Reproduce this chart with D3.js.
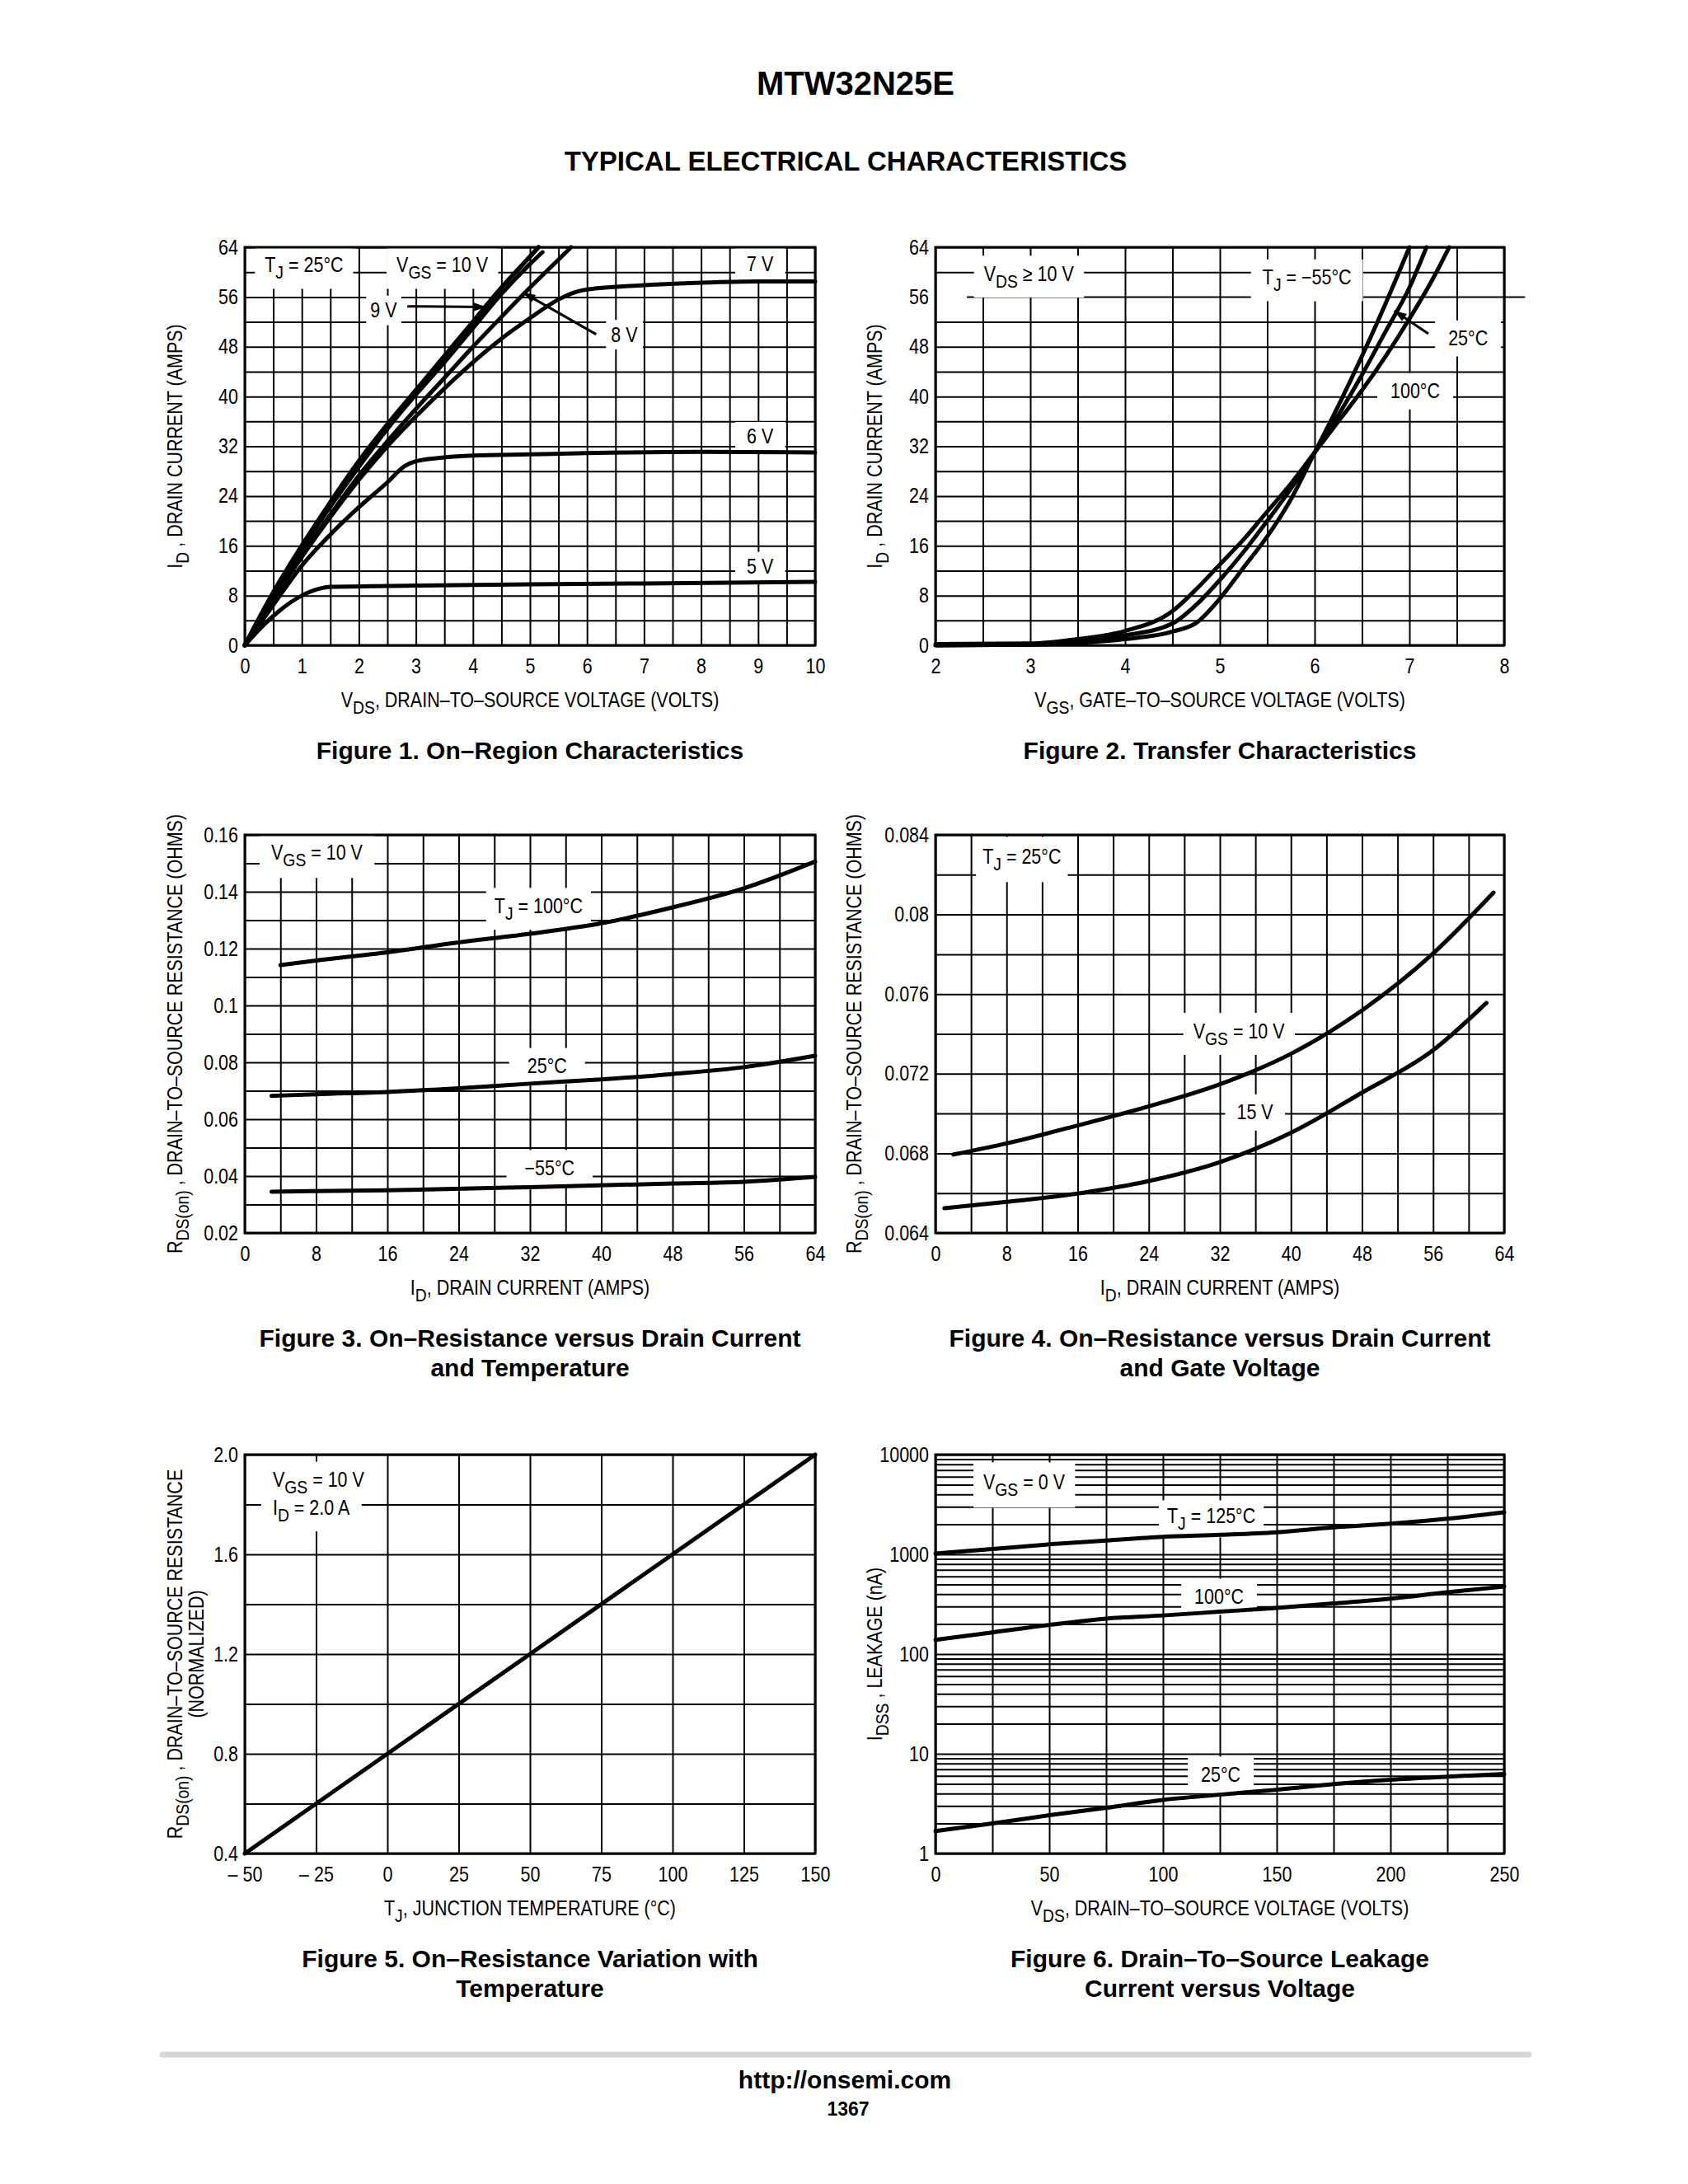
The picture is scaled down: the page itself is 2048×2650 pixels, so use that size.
<!DOCTYPE html>
<html><head><meta charset="utf-8">
<script src="https://cdn.jsdelivr.net/npm/d3@7"></script>
<style>body{margin:0;background:#fff}svg{display:block}</style>
</head><body>
<script>
// ================= DATA =================
// Figure 1 – On-region characteristics (VDS volts, ID amps)
const f1XTicks=[0,1,2,3,4,5,6,7,8,9,10];
const f1YTicks=[0,8,16,24,32,40,48,56,64];
const f1_10V=[[0,0],[0.5,8.5],[1,16],[1.5,23],[2,29.6],[2.5,35.5],[3,41],[3.5,46.5],[4,52],[4.5,57.5],[5,62.5],[5.15,64]];
const f1_9V=[[0,0],[0.5,8],[1,15.5],[1.5,22.3],[2,28.7],[2.5,34.8],[3,40.3],[3.5,45.5],[4,51],[4.5,56.5],[5,61.3],[5.22,63.2]];
const f1_8V=[[0,0],[0.5,7.6],[1,14.6],[1.5,21],[2,27.3],[2.5,32.8],[3,38],[3.5,43],[4,48],[4.5,52.8],[5,57.5],[5.5,62],[5.72,64]];
const f1_7V=[[0,0],[0.5,7.3],[1,14.2],[1.5,20.6],[2,26.6],[2.5,32],[3,36.8],[3.5,41.3],[4,45.5],[4.5,49.3],[5,52.6],[5.5,55.6],[5.8,56.8],[6,57.2],[7,57.9],[8,58.3],[9,58.5],[10,58.5]];
const f1_6V=[[0,0],[0.5,6.5],[1,12.8],[1.5,17.8],[2,22.2],[2.5,26.2],[2.8,28.8],[3,29.6],[3.5,30.2],[4,30.5],[5,30.7],[6,30.9],[8,31.1],[10,31]];
const f1_5V=[[0,0],[0.3,3],[0.6,5.5],[1,8],[1.3,9.1],[1.5,9.4],[3,9.6],[5,9.8],[7,9.95],[10,10.2]];
// Figure 2 – Transfer characteristics (VGS volts, ID amps)
const f2XTicks=[2,3,4,5,6,7,8];
const f2YTicks=[0,8,16,24,32,40,48,56,64];
const f2_m55=[[2,0],[3,0.1],[3.5,0.4],[4,1.0],[4.5,2.2],[4.75,3.6],[5,7.5],[5.25,12.5],[5.5,17.5],[5.75,23.5],[6,31],[6.25,38.5],[6.5,46.5],[6.75,55],[7,64]];
const f2_25=[[2,0],[3,0.15],[3.5,0.6],[4,1.6],[4.5,3.5],[4.75,6.5],[5,10.5],[5.25,15],[5.5,20],[5.75,25.2],[6,31],[6.25,37],[6.5,43.5],[6.75,50.5],[7,57.5],[7.18,64]];
const f2_100=[[2,0.2],[3,0.3],[3.5,1],[4,2.3],[4.5,5.5],[4.75,9],[5,13],[5.25,17],[5.5,21.5],[5.75,26],[6,31],[6.25,36],[6.5,41],[6.75,46.5],[7,52.5],[7.25,59],[7.42,64]];
// Figure 3 – RDS(on) vs ID and temperature
const f3XTicks=[0,8,16,24,32,40,48,56,64];
const f3YTicks=[0.02,0.04,0.06,0.08,0.1,0.12,0.14,0.16];
const f3YLabels=["0.02","0.04","0.06","0.08","0.1","0.12","0.14","0.16"];
const f3_100=[[4,0.1142],[8,0.1158],[16,0.1187],[24,0.1222],[32,0.1252],[40,0.1289],[48,0.1345],[56,0.1412],[64,0.1506]];
const f3_25=[[3,0.0682],[8,0.0688],[16,0.0696],[24,0.0709],[32,0.0725],[40,0.074],[48,0.0759],[56,0.0783],[64,0.0823]];
const f3_m55=[[3,0.0345],[8,0.0347],[16,0.035],[32,0.0361],[48,0.0374],[56,0.038],[64,0.0397]];
// Figure 4 – RDS(on) vs ID and gate voltage
const f4XTicks=[0,8,16,24,32,40,48,56,64];
const f4YTicks=[0.064,0.068,0.072,0.076,0.08,0.084];
const f4YLabels=["0.064","0.068","0.072","0.076","0.08","0.084"];
const f4_10V=[[2,0.06794],[8,0.0685],[16,0.0694],[24,0.07036],[32,0.07147],[40,0.073],[48,0.07518],[56,0.07804],[62.8,0.0811]];
const f4_15V=[[1,0.06524],[8,0.06556],[16,0.06598],[24,0.06661],[32,0.06756],[40,0.06903],[48,0.07105],[56,0.07318],[62,0.07556]];
// Figure 5 – normalized RDS(on) vs TJ
const f5XTicks=[-50,-25,0,25,50,75,100,125,150];
const f5XLabels=["\u2013 50","\u2013 25","0","25","50","75","100","125","150"];
const f5YTicks=[0.4,0.8,1.2,1.6,2.0];
const f5YLabels=["0.4","0.8","1.2","1.6","2.0"];
const f5_line=[[-50,0.4],[0,0.8],[50,1.2],[100,1.6],[150,2.0]];
// Figure 6 – IDSS leakage (nA) vs VDS
const f6XTicks=[0,50,100,150,200,250];
const f6YTicks=[1,10,100,1000,10000];
const f6_125=[[0,1020],[25,1130],[50,1260],[75,1377],[100,1500],[125,1570],[150,1667],[175,1865],[200,2033],[225,2275],[250,2637]];
const f6_100=[[0,139],[25,165],[50,196],[75,227],[100,244],[125,266],[150,290],[175,322],[200,360],[225,417],[250,475]];
const f6_25=[[0,1.68],[25,2.0],[50,2.42],[75,2.87],[100,3.45],[125,3.89],[150,4.36],[175,4.96],[200,5.5],[225,5.9],[250,6.27]];

// ================= DRAWING =================
const SANS="'Liberation Sans',Arial,Helvetica,sans-serif";
const FS=25, K=0.86;   // condensed look: Liberation Sans squeezed horizontally
const svg=d3.select('body').append('svg').attr('width',2048).attr('height',2650);
svg.append('defs').append('marker').attr('id','arr').attr('viewBox','0 0 10 10')
  .attr('refX',10).attr('refY',5).attr('markerWidth',5).attr('markerHeight',5)
  .attr('markerUnits','strokeWidth').attr('orient','auto')
  .append('path').attr('d','M0,1.5 L10,5 L0,8.5 Z').attr('fill','#000');

function rich(t,str,fs){
  const parts=str.split(/(_\{[^}]*\})/).filter(s=>s.length);
  let down=false;
  parts.forEach(p=>{
    if(p.startsWith('_{')){
      t.append('tspan').attr('dy',fs*0.32).attr('font-size',fs*0.9).text(p.slice(2,-1));
      down=true;
    } else {
      const ts=t.append('tspan').text(p);
      if(down){ts.attr('dy',-fs*0.32);down=false;}
    }
  });
  return t;
}
// condensed text at (X,Y), optional rotation
function ctext(parent,X,Y,str,anchor,rot){
  const t=parent.append('text').attr('x',0).attr('y',0)
    .attr('transform',`translate(${X},${Y})${rot?` rotate(${rot})`:''} scale(${K},1)`)
    .attr('text-anchor',anchor||'start').attr('font-family',SANS).attr('font-size',FS).attr('fill','#000');
  return rich(t,str,FS);
}
function range(a,b,s){const r=[];for(let v=a;v<=b+1e-9;v+=s)r.push(+v.toFixed(6));return r;}

function panel(o){
  const g=svg.append('g');
  const x=d3.scaleLinear().domain(o.xDomain).range([o.left,o.right]);
  const y=(o.yLog?d3.scaleLog():d3.scaleLinear()).domain(o.yDomain).range([o.bottom,o.top]);
  const H=o.bottom-o.top, W=o.right-o.left;
  const gGrid=g.append('g'), gBox=g.append('g'), gFrame=g.append('g'),
        gCurve=g.append('g'), gText=g.append('g');
  // grid
  gGrid.append('g').attr('transform',`translate(0,${o.bottom})`)
    .call(d3.axisBottom(x).tickValues(o.xGrid).tickSize(-H).tickFormat(''))
    .call(s=>{s.select('.domain').remove();s.selectAll('line').attr('stroke','#000').attr('stroke-width',2);});
  gGrid.append('g').attr('transform',`translate(${o.left},0)`)
    .call(d3.axisLeft(y).tickValues(o.yGrid).tickSize(-W).tickFormat(''))
    .call(s=>{s.select('.domain').remove();s.selectAll('line').attr('stroke','#000').attr('stroke-width',2);});
  if(o.extraGrid) o.extraGrid.forEach(e=>{
    gGrid.append('line').attr('x1',x(e.x0)).attr('x2',x(e.x1)).attr('y1',y(e.y)).attr('y2',y(e.y))
      .attr('stroke','#000').attr('stroke-width',2);
  });
  // frame
  gFrame.append('rect').attr('x',o.left).attr('y',o.top).attr('width',W).attr('height',H)
    .attr('fill','none').attr('stroke','#000').attr('stroke-width',3);
  // tick labels
  const xa=d3.axisBottom(x).tickValues(o.xTicks).tickSize(0).tickPadding(16)
    .tickFormat((d,i)=>o.xLabels?o.xLabels[i]:d);
  gText.append('g').attr('transform',`translate(0,${o.bottom})`).call(xa)
    .call(s=>{s.select('.domain').remove();
      s.selectAll('text').attr('font-family',SANS).attr('font-size',FS).attr('fill','#000').attr('transform',`scale(${K},1)`);})
    .attr('font-family',null).attr('font-size',null);
  const ya=d3.axisLeft(y).tickValues(o.yTicks).tickSize(0).tickPadding(8)
    .tickFormat((d,i)=>o.yLabels?o.yLabels[i]:d);
  gText.append('g').attr('transform',`translate(${o.left},0)`).call(ya)
    .call(s=>{s.select('.domain').remove();
      s.selectAll('text').attr('font-family',SANS).attr('font-size',FS).attr('fill','#000')
        .attr('x',-8/K).attr('transform',`scale(${K},1)`);})
    .attr('font-family',null).attr('font-size',null);
  // axis titles
  ctext(gText,(o.left+o.right)/2,o.bottom+75,o.xTitle,'middle');
  o.yTitle.forEach((tt,i)=>ctext(gText,o.yTitleX[i],(o.top+o.bottom)/2,tt,'middle',-90));
  // caption
  o.caption.forEach((c,i)=>{
    gText.append('text').attr('x',(o.left+o.right)/2).attr('y',o.bottom+138+i*36)
      .attr('text-anchor','middle').attr('font-family',SANS).attr('font-weight','bold')
      .attr('font-size',30).text(c);
  });
  // curves
  const smooth=d3.line().x(d=>x(d[0])).y(d=>y(d[1])).curve(d3.curveMonotoneX);
  const straight=d3.line().x(d=>x(d[0])).y(d=>y(d[1]));
  o.series.forEach(s=>{
    gCurve.append('path').attr('d',(s.linear?straight:smooth)(s.data))
      .attr('fill','none').attr('stroke','#000').attr('stroke-width',s.w||5)
      .attr('stroke-linecap','round').attr('stroke-linejoin','round');
  });
  // annotations with white masking boxes
  (o.labels||[]).forEach(l=>{
    const X=x(l.x), Y=y(l.y);
    const t=ctext(gText,X,Y,l.text,'start');
    const b=t.node().getBBox();
    const px=l.px!=null?l.px:12, py=l.py!=null?l.py:6;
    gBox.append('rect').attr('x',X+b.x*K-px).attr('y',Y+b.y-py).attr('width',b.width*K+2*px)
      .attr('height',b.height+2*py).attr('fill','#fff');
  });
  (o.arrows||[]).forEach(a=>{
    gCurve.append('line').attr('x1',x(a.x0)).attr('y1',y(a.y0)).attr('x2',x(a.x1)).attr('y2',y(a.y1))
      .attr('stroke','#000').attr('stroke-width',3).attr('marker-end','url(#arr)');
  });
}

// header
svg.append('text').attr('x',1038).attr('y',115).attr('text-anchor','middle')
  .attr('font-family',SANS).attr('font-weight','bold').attr('font-size',40).text('MTW32N25E');
svg.append('text').attr('x',1026).attr('y',207).attr('text-anchor','middle')
  .attr('font-family',SANS).attr('font-weight','bold').attr('font-size',33).text('TYPICAL ELECTRICAL CHARACTERISTICS');

const L={left:297,right:989}, R={left:1135,right:1825};
const row1={top:300,bottom:783}, row2={top:1013,bottom:1496}, row3={top:1765,bottom:2249};

panel({...L,...row1,xDomain:[0,10],yDomain:[0,64],xGrid:range(0,10,0.5),yGrid:range(0,64,4),
  xTicks:f1XTicks,yTicks:f1YTicks,
  xTitle:'V_{DS}, DRAIN\u2013TO\u2013SOURCE VOLTAGE (VOLTS)',yTitle:['I_{D} , DRAIN CURRENT (AMPS)'],yTitleX:[221],
  caption:['Figure 1. On\u2013Region Characteristics'],
  series:[{data:f1_10V,w:5.5},{data:f1_9V},{data:f1_8V},{data:f1_7V},{data:f1_6V},{data:f1_5V}],
  labels:[{x:0.35,y:60,text:'T_{J} =  25\u00B0C',px:12,py:8},{x:2.66,y:60,text:'V_{GS} = 10 V',px:12,py:8},
    {x:2.2,y:52.7,text:'9 V',px:5,py:4},{x:6.42,y:48.8,text:'8 V',px:6,py:4},
    {x:8.8,y:60.2,text:'7 V',px:14,py:8},{x:8.8,y:32.4,text:'6 V',px:14,py:4},{x:8.8,y:11.5,text:'5 V',px:14,py:4}],
  arrows:[{x0:2.85,y0:54.5,x1:4.23,y1:54.4},{x0:6.16,y0:50,x1:4.88,y1:56.7}]
});

panel({...R,...row1,xDomain:[2,8],yDomain:[0,64],xGrid:range(2,8,0.5),yGrid:range(0,52,4).concat([60,64]),
  extraGrid:[{x0:2.33,x1:8.22,y:56}],
  xTicks:f2XTicks,yTicks:f2YTicks,
  xTitle:'V_{GS}, GATE\u2013TO\u2013SOURCE VOLTAGE (VOLTS)',yTitle:['I_{D} , DRAIN CURRENT (AMPS)'],yTitleX:[1070],
  caption:['Figure 2. Transfer Characteristics'],
  series:[{data:f2_m55},{data:f2_25},{data:f2_100}],
  labels:[{x:2.51,y:58.6,text:'V_{DS} \u2265 10 V',px:12,py:8},{x:5.45,y:58.0,text:'T_{J} =  \u221255\u00B0C',px:14,py:8},
    {x:7.41,y:48.2,text:'25\u00B0C',px:16,py:8},{x:6.8,y:39.7,text:'100\u00B0C',px:16,py:8}],
  arrows:[{x0:7.2,y0:50.1,x1:6.84,y1:53.8}]
});

panel({...L,...row2,xDomain:[0,64],yDomain:[0.02,0.16],xGrid:range(0,64,4),yGrid:range(0.02,0.16,0.01),
  xTicks:f3XTicks,yTicks:f3YTicks,yLabels:f3YLabels,
  xTitle:'I_{D}, DRAIN CURRENT (AMPS)',yTitle:['R_{DS(on)} , DRAIN\u2013TO\u2013SOURCE RESISTANCE (OHMS)'],yTitleX:[221],
  caption:['Figure 3. On\u2013Resistance versus Drain Current','and Temperature'],
  series:[{data:f3_100},{data:f3_25},{data:f3_m55}],
  labels:[{x:2.96,y:0.1513,text:'V_{GS} = 10 V',px:14,py:10},{x:28,y:0.1325,text:'T_{J} =  100\u00B0C',px:10,py:8},
    {x:31.7,y:0.0762,text:'25\u00B0C',px:22,py:8},{x:31.4,y:0.0403,text:'\u221255\u00B0C',px:22,py:8}]
});

panel({...R,...row2,xDomain:[0,64],yDomain:[0.064,0.084],xGrid:range(0,64,4),yGrid:range(0.064,0.084,0.002),
  xTicks:f4XTicks,yTicks:f4YTicks,yLabels:f4YLabels,
  xTitle:'I_{D}, DRAIN CURRENT (AMPS)',yTitle:['R_{DS(on)} , DRAIN\u2013TO\u2013SOURCE RESISTANCE (OHMS)'],yTitleX:[1045],
  caption:['Figure 4. On\u2013Resistance versus Drain Current','and Gate Voltage'],
  series:[{data:f4_10V},{data:f4_15V}],
  labels:[{x:5.3,y:0.08255,text:'T_{J} =  25\u00B0C',px:8,py:10},{x:29,y:0.07379,text:'V_{GS} = 10 V',px:12,py:8},
    {x:33.9,y:0.0697,text:'15 V',px:14,py:8}]
});

panel({...L,...row3,xDomain:[-50,150],yDomain:[0.4,2.0],xGrid:range(-50,150,25),yGrid:range(0.4,2.0,0.2),
  xTicks:f5XTicks,xLabels:f5XLabels,yTicks:f5YTicks,yLabels:f5YLabels,
  xTitle:'T_{J}, JUNCTION TEMPERATURE (\u00B0C)',
  yTitle:['R_{DS(on)} , DRAIN\u2013TO\u2013SOURCE RESISTANCE','(NORMALIZED)'],yTitleX:[221,247],
  caption:['Figure 5. On\u2013Resistance Variation with','Temperature'],
  series:[{data:f5_line,linear:true}],
  labels:[{x:-40.2,y:1.871,text:'V_{GS} = 10 V',px:14,py:8},{x:-40.2,y:1.759,text:'I_{D} = 2.0 A',px:14,py:8}]
});

const f6Grid=[];[1,10,100,1000].forEach(d=>{for(let k=1;k<10;k++)f6Grid.push(d*k);});f6Grid.push(10000);
panel({...R,...row3,xDomain:[0,250],yDomain:[1,10000],yLog:true,xGrid:range(0,250,25),yGrid:f6Grid,
  xTicks:f6XTicks,yTicks:f6YTicks,
  xTitle:'V_{DS}, DRAIN\u2013TO\u2013SOURCE VOLTAGE (VOLTS)',yTitle:['I_{DSS} , LEAKAGE (nA)'],yTitleX:[1070],
  caption:['Figure 6. Drain\u2013To\u2013Source Leakage','Current versus Voltage'],
  series:[{data:f6_125},{data:f6_100},{data:f6_25}],
  labels:[{x:21,y:4500,text:'V_{GS} = 0 V',px:12,py:10},{x:101.8,y:2060,text:'T_{J} =  125\u00B0C',px:10,py:5},
    {x:113.8,y:319,text:'100\u00B0C',px:16,py:8},{x:116.7,y:5.24,text:'25\u00B0C',px:16,py:8}]
});

// footer
svg.append('line').attr('x1',197).attr('x2',1855).attr('y1',2493).attr('y2',2493)
  .attr('stroke','#d6d6d6').attr('stroke-width',7).attr('stroke-linecap','round');
svg.append('text').attr('x',1025).attr('y',2534).attr('text-anchor','middle')
  .attr('font-family',SANS).attr('font-weight','bold').attr('font-size',30).text('http://onsemi.com');
svg.append('text').attr('x',1029).attr('y',2567).attr('text-anchor','middle')
  .attr('font-family',SANS).attr('font-weight','bold').attr('font-size',23).text('1367');
</script>
</body></html>
